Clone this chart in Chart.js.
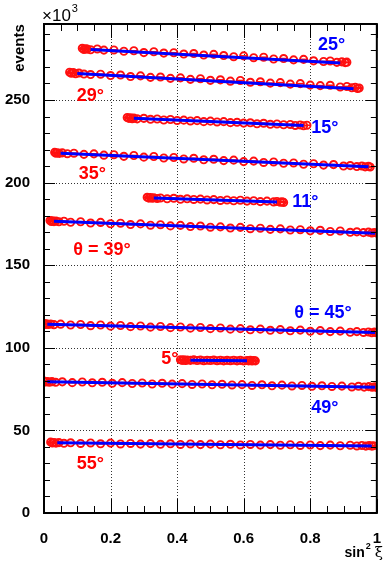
<!DOCTYPE html>
<html><head><meta charset="utf-8">
<script src="https://cdn.jsdelivr.net/npm/chart.js@4/dist/chart.umd.min.js"></script>
<style>html,body{margin:0;padding:0;background:#fff}#wrap{width:390px;height:564px}</style>
</head><body><div id="wrap"><canvas id="c" width="390" height="564"></canvas></div>
<script>
// ---- data (events in units of 10^3, x = sin^2 xi) ----
const x25=[0.115,0.12,0.125,0.13,0.14,0.16,0.18,0.21,0.24,0.27,0.30,0.33,0.36,0.39,0.42,0.45,0.48,0.51,0.54,0.57,0.60,0.63,0.66,0.69,0.72,0.75,0.78,0.81,0.84,0.86,0.88,0.895,0.905,0.91];
const y25=[281.3,280.6,281.0,280.8,280.4,280.9,280.2,280.3,279.5,279.8,278.7,279.2,278.4,278.6,277.8,278.1,277.2,277.6,276.9,276.2,276.7,275.6,275.9,274.8,275.1,274.3,274.6,273.7,273.3,273.6,272.8,273.1,272.6,272.9];
const x29=[0.077,0.082,0.088,0.095,0.105,0.12,0.14,0.17,0.20,0.23,0.26,0.29,0.32,0.35,0.38,0.41,0.44,0.47,0.50,0.53,0.56,0.59,0.62,0.65,0.68,0.71,0.74,0.77,0.80,0.83,0.86,0.89,0.91,0.925,0.935,0.942,0.947];
const y29=[266.8,266.2,266.6,265.9,266.3,265.7,265.4,265.6,264.8,265.1,264.2,264.6,263.7,263.9,263.1,263.4,262.5,262.9,261.9,262.2,261.4,261.8,260.7,261.0,260.2,260.5,259.6,259.9,259.0,258.7,258.9,257.9,258.2,257.4,257.7,257.0,257.3];
const x15=[0.25,0.255,0.26,0.265,0.27,0.28,0.30,0.32,0.34,0.36,0.38,0.40,0.42,0.44,0.46,0.48,0.50,0.52,0.54,0.56,0.58,0.60,0.62,0.64,0.66,0.68,0.70,0.72,0.74,0.755,0.77,0.78,0.79];
const y15=[239.4,238.9,239.2,238.7,239.0,238.6,238.9,238.3,238.5,237.9,238.2,237.6,237.8,237.3,237.5,236.9,237.2,236.7,236.9,236.3,236.5,236.0,236.2,235.6,235.9,235.3,235.5,235.0,235.2,234.6,234.9,234.4,234.7];
const x35=[0.032,0.036,0.04,0.046,0.055,0.07,0.09,0.12,0.15,0.18,0.21,0.24,0.27,0.30,0.33,0.36,0.39,0.42,0.45,0.48,0.51,0.54,0.57,0.60,0.63,0.66,0.69,0.72,0.75,0.78,0.81,0.84,0.87,0.90,0.92,0.94,0.955,0.965,0.975,0.98];
const y35=[218.3,217.8,218.1,217.7,218.0,217.5,217.8,217.1,217.4,216.6,216.9,215.9,216.4,215.4,215.8,214.9,215.2,214.3,214.7,213.8,214.1,213.3,213.6,212.7,213.0,212.2,212.5,211.7,211.9,211.1,211.4,210.6,210.9,210.0,210.3,209.7,210.0,209.5,209.8,209.4];
const x11=[0.31,0.315,0.32,0.325,0.33,0.34,0.35,0.37,0.39,0.41,0.43,0.45,0.47,0.49,0.51,0.53,0.55,0.57,0.59,0.61,0.63,0.65,0.67,0.69,0.70,0.71,0.715,0.72];
const y11=[191.1,190.6,191.0,190.5,190.8,190.4,190.7,190.2,190.5,189.9,190.2,189.8,190.0,189.5,189.7,189.2,189.5,189.0,189.3,188.8,189.0,188.5,188.8,188.3,188.6,188.1,188.4,188.0];
const x39=[0.018,0.022,0.026,0.03,0.036,0.045,0.06,0.08,0.11,0.14,0.17,0.20,0.23,0.26,0.29,0.32,0.35,0.38,0.41,0.44,0.47,0.50,0.53,0.56,0.59,0.62,0.65,0.68,0.71,0.74,0.77,0.80,0.83,0.86,0.89,0.92,0.94,0.96,0.975,0.985,0.993,1.0];
const y39=[177.0,176.5,176.8,176.4,176.7,176.3,176.6,176.0,176.3,175.5,175.9,175.1,175.4,174.6,175.0,174.2,174.5,173.8,174.1,173.4,173.7,173.0,173.2,172.5,172.9,172.1,172.4,171.7,172.0,171.3,171.5,170.8,171.1,170.4,170.7,169.9,170.2,169.7,170.0,169.5,169.8,169.4];
const x45=[0.0,0.004,0.008,0.013,0.02,0.03,0.05,0.08,0.11,0.14,0.17,0.20,0.23,0.26,0.29,0.32,0.35,0.38,0.41,0.44,0.47,0.50,0.53,0.56,0.59,0.62,0.65,0.68,0.71,0.74,0.77,0.80,0.83,0.86,0.89,0.92,0.94,0.96,0.975,0.985,0.993,0.998];
const y45=[114.7,114.2,114.5,114.1,114.4,114.0,114.3,113.8,114.1,113.4,113.8,113.1,113.5,112.8,113.2,112.5,112.9,112.2,112.6,111.9,112.3,111.6,112.0,111.3,111.6,110.9,111.3,110.6,111.0,110.3,110.7,110.0,110.4,109.8,110.1,109.4,109.8,109.3,109.6,109.1,109.5,109.2];
const x5=[0.41,0.415,0.42,0.425,0.43,0.44,0.45,0.46,0.47,0.48,0.49,0.50,0.51,0.52,0.53,0.54,0.55,0.56,0.57,0.58,0.59,0.60,0.61,0.615,0.62,0.625,0.63,0.635];
const y5=[92.8,92.4,92.7,92.3,92.6,92.4,92.7,92.3,92.6,92.2,92.5,92.3,92.6,92.2,92.5,92.1,92.4,92.2,92.5,92.1,92.4,92.0,92.3,92.1,92.4,92.0,92.3,92.1];
const x49=[0.0,0.005,0.01,0.016,0.024,0.035,0.055,0.085,0.115,0.145,0.175,0.205,0.235,0.265,0.295,0.325,0.355,0.385,0.415,0.445,0.475,0.505,0.535,0.565,0.595,0.625,0.655,0.685,0.715,0.745,0.775,0.805,0.835,0.865,0.895,0.925,0.945,0.962,0.976,0.986,0.994,1.0];
const y49=[79.8,79.3,79.6,79.2,79.5,79.1,79.4,78.9,79.3,78.8,79.1,78.5,78.9,78.4,78.7,78.1,78.5,78.0,78.3,77.8,78.1,77.6,77.9,77.5,77.7,77.2,77.6,77.0,77.4,76.9,77.2,76.7,77.0,76.6,76.8,76.3,76.7,76.2,76.5,76.1,76.4,76.0];
const x55=[0.02,0.025,0.03,0.036,0.045,0.06,0.08,0.11,0.14,0.17,0.20,0.23,0.26,0.29,0.32,0.35,0.38,0.41,0.44,0.47,0.50,0.53,0.56,0.59,0.62,0.65,0.68,0.71,0.74,0.77,0.80,0.83,0.86,0.89,0.92,0.94,0.955,0.967,0.977,0.985,0.99];
const y55=[42.9,42.4,42.7,42.3,42.6,42.2,42.5,42.1,42.4,41.9,42.3,41.8,42.1,41.7,42.0,41.6,41.9,41.5,41.8,41.4,41.7,41.3,41.6,41.2,41.5,41.1,41.4,41.0,41.3,40.9,41.2,40.8,41.1,40.7,41.0,40.6,40.9,40.5,40.8,40.5,40.7];
// fitted straight lines: [x start, x end], [y start, y end]
const fitX25=[0.14,0.89],  fitY25=[280.6,272.4];
const fitX29=[0.10,0.93],  fitY29=[266.1,256.8];
const fitX15=[0.27,0.78],  fitY15=[238.9,234.6];
const fitX35=[0.05,0.975], fitY35=[217.8,209.6];
const fitX11=[0.33,0.70],  fitY11=[190.7,188.2];
const fitX39=[0.03,0.995], fitY39=[176.6,169.4];
const fitX45=[0.01,0.995], fitY45=[114.3,109.2];
const fitX5=[0.44,0.61],   fitY5=[92.5,92.2];
const fitX49=[0.01,0.995], fitY49=[79.4,76.1];
const fitX55=[0.04,0.985], fitY55=[42.5,40.6];
const xErr=0.011;
const xTickVals=[0,0.2,0.4,0.6,0.8,1];
const yTickVals=[0,50,100,150,200,250];
const angleLabels=['25°','29°','15°','35°','11°','θ = 39°','θ = 45°','5°','49°','55°'];

// ---- layout of annotations (not data) ----
const labelPos=[[0.864,283],[0.139,252.4],[0.844,233],[0.145,205],[0.785,188],[0.174,159],[0.838,121],[0.378,93.2],[0.844,63.6],[0.139,29.7]];
const labelCol=['#0000ff','#ff0000','#0000ff','#ff0000','#0000ff','#ff0000','#0000ff','#ff0000','#0000ff','#ff0000'];

const series=[[x25,y25,fitX25,fitY25],[x29,y29,fitX29,fitY29],[x15,y15,fitX15,fitY15],[x35,y35,fitX35,fitY35],[x11,y11,fitX11,fitY11],[x39,y39,fitX39,fitY39],[x45,y45,fitX45,fitY45],[x5,y5,fitX5,fitY5],[x49,y49,fitX49,fitY49],[x55,y55,fitX55,fitY55]];
const datasets=[];
series.forEach(([xs,ys,fx,fy])=>{
  datasets.push({type:'scatter',data:xs.map((v,i)=>({x:v,y:ys[i]})),showLine:false,pointStyle:'circle',pointRadius:3.6,pointBorderWidth:1.9,borderColor:'#ff1010',backgroundColor:'rgba(0,0,0,0)',order:2,isPts:true});
  datasets.push({type:'line',data:fx.map((v,i)=>({x:v,y:fy[i]})),borderColor:'#0000ff',borderWidth:3,pointRadius:0,fill:false,order:1,isPts:false});
});

const FONT='"Liberation Sans", Arial, Helvetica, sans-serif';
const deco={
  id:'deco',
  beforeDatasetsDraw(chart){
    const {ctx,chartArea:a,scales:{x,y}}=chart;
    ctx.save();
    ctx.strokeStyle='#333';ctx.lineWidth=1;ctx.setLineDash([1,2]);
    xTickVals.forEach(v=>{if(v<=0||v>=1)return;const px=Math.round(x.getPixelForValue(v))+0.5;ctx.beginPath();ctx.moveTo(px,a.top);ctx.lineTo(px,a.bottom);ctx.stroke();});
    yTickVals.forEach(v=>{if(v<=0)return;const py=Math.round(y.getPixelForValue(v))+0.5;ctx.beginPath();ctx.moveTo(a.left,py);ctx.lineTo(a.right,py);ctx.stroke();});
    ctx.setLineDash([]);
    // horizontal error bars
    ctx.strokeStyle='#ff1010';ctx.lineWidth=1.6;
    chart.data.datasets.forEach(ds=>{if(!ds.isPts)return;ds.data.forEach(p=>{const py=y.getPixelForValue(p.y);ctx.beginPath();ctx.moveTo(x.getPixelForValue(Math.max(0,p.x-xErr)),py);ctx.lineTo(x.getPixelForValue(Math.min(1,p.x+xErr)),py);ctx.stroke();});});
    ctx.restore();
  },
  afterDraw(chart){
    const {ctx,chartArea:a,scales:{x,y}}=chart;
    ctx.save();
    ctx.strokeStyle='#000';ctx.lineWidth=1;
    // minor & major ticks
    for(let k=0;k<=20;k++){const v=k*0.05;const px=Math.round(x.getPixelForValue(v))+0.5;const L=(k%4===0)?14:7;
      ctx.beginPath();ctx.moveTo(px,a.bottom);ctx.lineTo(px,a.bottom-L);ctx.moveTo(px,a.top);ctx.lineTo(px,a.top+L);ctx.stroke();}
    for(let v=0;v<=290;v+=10){const py=Math.round(y.getPixelForValue(v))+0.5;const L=(v%50===0)?11:6;
      ctx.beginPath();ctx.moveTo(a.left,py);ctx.lineTo(a.left+L,py);ctx.moveTo(a.right,py);ctx.lineTo(a.right-L,py);ctx.stroke();}
    ctx.lineWidth=2;ctx.strokeRect(a.left,a.top,a.right-a.left,a.bottom-a.top);
    // angle labels
    ctx.textAlign='center';ctx.textBaseline='middle';
    angleLabels.forEach((t,i)=>{ctx.fillStyle=labelCol[i];ctx.font='bold 18px '+FONT;ctx.fillText(t,x.getPixelForValue(labelPos[i][0]),y.getPixelForValue(labelPos[i][1]));});
    // axis titles
    ctx.fillStyle='#000';
    ctx.save();ctx.translate(20,48);ctx.rotate(-Math.PI/2);ctx.font='bold 15px '+FONT;ctx.textAlign='center';ctx.textBaseline='middle';ctx.fillText('events',0,0);ctx.restore();
    ctx.textAlign='left';ctx.textBaseline='alphabetic';
    ctx.font='17px '+FONT;ctx.fillText('×10',42,21);const w=ctx.measureText('×10').width;ctx.font='11px '+FONT;ctx.fillText('3',42+w+1,12);
    // sin^2 xi
    ctx.textAlign='right';
    ctx.font='15px "DejaVu Serif", serif';const wx=ctx.measureText('ξ').width;ctx.fillText('ξ',383,557);
    ctx.font='bold 9px '+FONT;const w2=ctx.measureText('2').width;ctx.fillText('2',383-wx-4,549);
    ctx.font='bold 14px '+FONT;ctx.fillText('sin',383-wx-4-w2-1,557);
    ctx.restore();
  }
};

new Chart(document.getElementById('c'),{
  data:{datasets},
  options:{
    responsive:false,animation:false,devicePixelRatio:1,
    layout:{padding:{top:24,right:7,left:0,bottom:0}},
    plugins:{legend:{display:false},tooltip:{enabled:false}},
    scales:{
      x:{type:'linear',min:0,max:1,grid:{display:false},border:{display:false},
        afterBuildTicks:s=>{s.ticks=xTickVals.map(v=>({value:v}));},
        afterFit:s=>{s.height=51;},
        ticks:{padding:9,color:'#000',font:{family:FONT,size:15,weight:'bold'},maxRotation:0,callback:v=>(v===0||v===1)?String(v):v.toFixed(1)}},
      y:{type:'linear',min:0,max:296,grid:{display:false},border:{display:false},
        afterBuildTicks:s=>{s.ticks=yTickVals.map(v=>({value:v}));},
        afterFit:s=>{s.width=44;},
        ticks:{padding:6,color:'#000',font:{family:FONT,size:15,weight:'bold'},callback:v=>String(v)}}
    }
  },
  plugins:[deco]
});
</script></body></html>
